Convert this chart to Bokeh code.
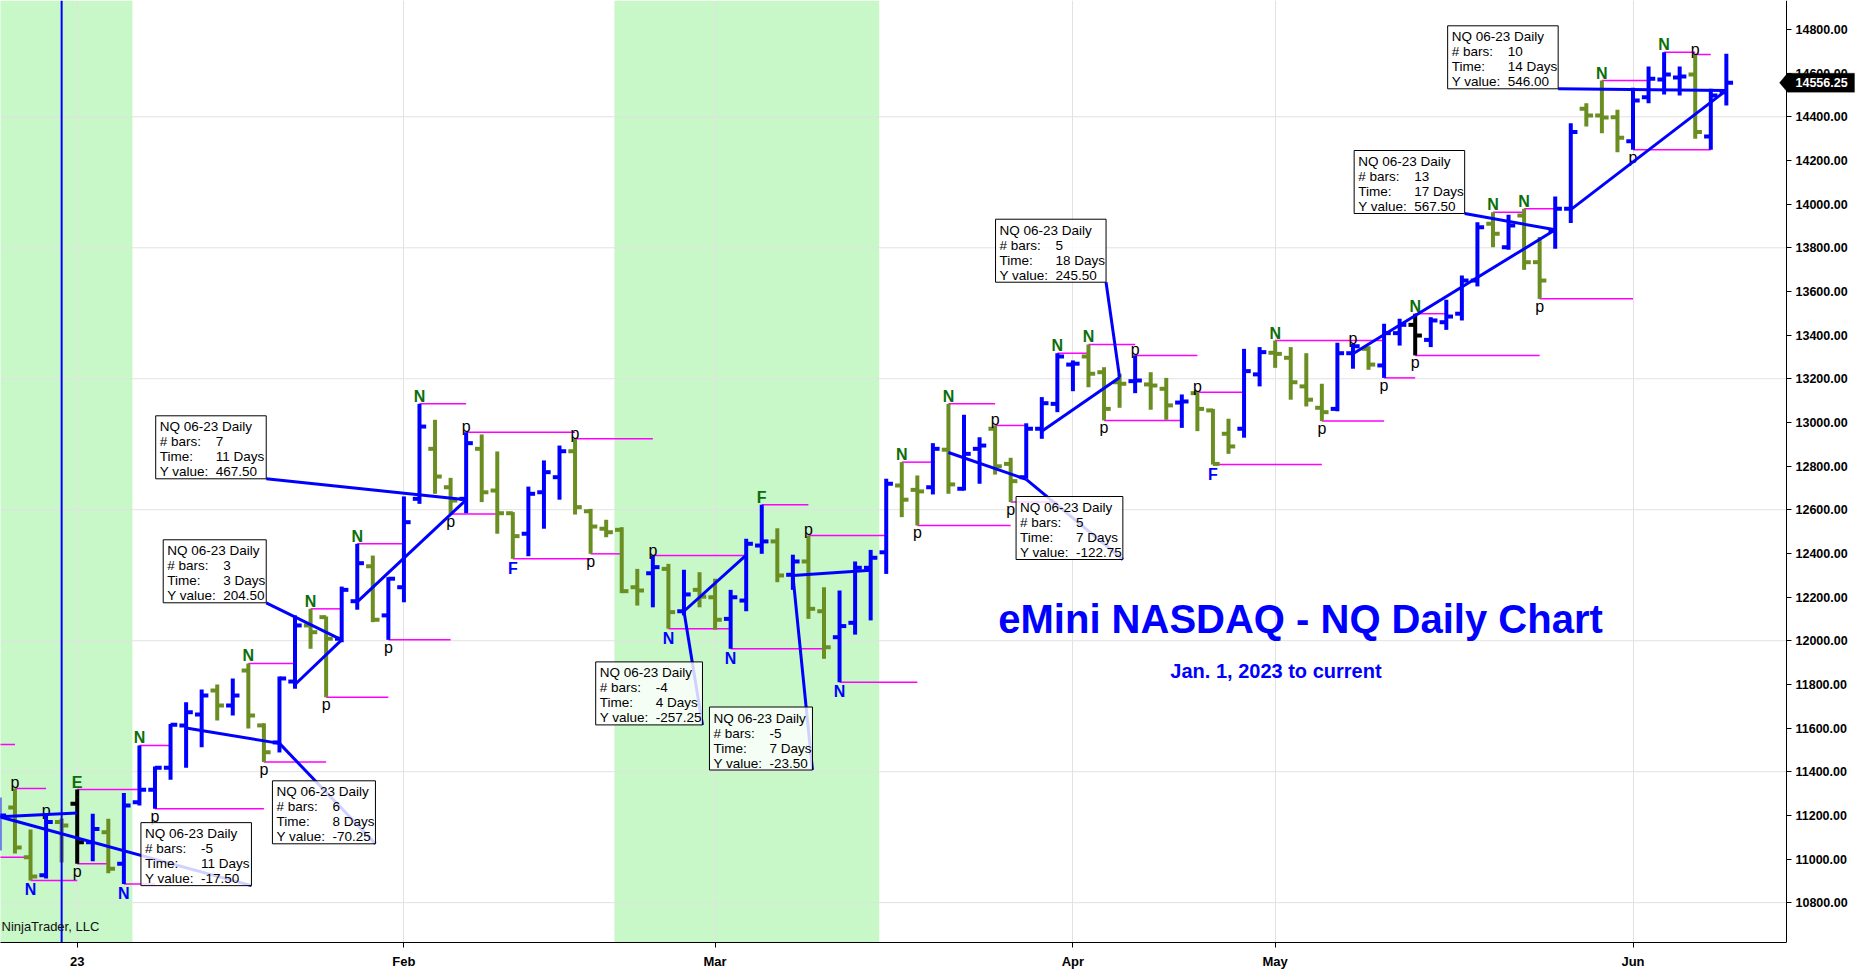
import numpy as np
from bokeh.plotting import figure
from bokeh.models import (FixedTicker, NumeralTickFormatter, BoxAnnotation, Span,
                          Label, PolyAnnotation)
from bokeh.core.properties import value
from bokeh.embed import file_html
from bokeh.resources import INLINE

# ---------------- data ----------------
opens = [11085, 11236, 11008, 10925, 11169, 11253, 11077, 11123, 10978, 11260,
         11317, 11418, 11612, 11662, 11772, 11703, 11864, 11612, 11534, 11813,
         12070, 12108, 12009, 12181, 12341, 12116, 12245, 12650, 12879, 12703,
         12650, 12879, 12688, 12584, 12490, 12680, 12749, 12868, 12593, 12513,
         12508, 12245, 12309, 12329, 12135, 12233, 12199, 12100, 12184, 12436,
         12455, 12302, 12363, 12135, 12016, 12082, 12334, 12405, 12711, 12691,
         12703, 12875, 12696, 12879, 12971, 12810, 12749, 12971, 13085, 13265,
         13302, 13230, 13184, 13189, 13174, 13154, 13091, 13134, 13055, 12948,
         12971, 13220, 13319, 13296, 13165, 13067, 13062, 13317, 13337, 13261,
         13409, 13447, 13378, 13459, 13498, 13650, 13910, 13803, 13948, 13734,
         13879, 13979, 14437, 14406, 14398, 14288, 14490, 14571, 14580, 14594,
         14310, 14513]
highs = [11282, 11323, 11135, 11199, 11185, 11318, 11207, 11184, 11302, 11520,
         11424, 11619, 11718, 11776, 11799, 11827, 11896, 11622, 11836, 12116,
         12146, 12111, 12248, 12444, 12390, 12291, 12661, 13085, 13012, 12746,
         12955, 12945, 12867, 12589, 12706, 12826, 12894, 12925, 12604, 12554,
         12520, 12329, 12390, 12352, 12325, 12314, 12284, 12233, 12467, 12623,
         12515, 12394, 12482, 12245, 12230, 12363, 12416, 12742, 12818, 12757,
         12905, 13085, 13035, 12932, 12986, 12838, 12996, 13116, 13317, 13284,
         13357, 13253, 13223, 13307, 13230, 13204, 13128, 13138, 13062, 13017,
         13337, 13345, 13375, 13345, 13317, 13177, 13365, 13360, 13349, 13452,
         13475, 13498, 13482, 13562, 13673, 13917, 13963, 13951, 13979, 13849,
         14035, 14371, 14462, 14566, 14432, 14533, 14630, 14696, 14630, 14685,
         14528, 14689]
lows = [11039, 11025, 10902, 10911, 10984, 10978, 10990, 10935, 10886, 11245,
        11230, 11363, 11418, 11512, 11634, 11657, 11598, 11444, 11488, 11780,
        11963, 11741, 11993, 12142, 12085, 12004, 12176, 12627, 12673, 12581,
        12584, 12635, 12490, 12375, 12387, 12513, 12646, 12578, 12398, 12474,
        12218, 12161, 12153, 12055, 12116, 12153, 12050, 11963, 12135, 12398,
        12268, 12233, 12100, 11917, 11810, 12028, 12093, 12306, 12566, 12528,
        12670, 12673, 12688, 12719, 12761, 12635, 12742, 12925, 13047, 13143,
        13161, 13009, 13067, 13134, 13058, 13012, 12975, 12960, 12807, 12856,
        12930, 13165, 13250, 13104, 13073, 13006, 13051, 13246, 13241, 13204,
        13352, 13307, 13345, 13424, 13467, 13623, 13803, 13791, 13699, 13566,
        13795, 13913, 14356, 14325, 14238, 14249, 14462, 14502, 14498, 14299,
        14249, 14452]
closes = [11199, 11053, 10920, 11169, 11154, 11077, 11138, 10955, 11245, 11317,
          11418, 11615, 11672, 11749, 11703, 11749, 11657, 11489, 11827, 12070,
          12039, 12009, 12233, 12355, 12096, 12284, 12543, 12981, 12752, 12642,
          12905, 12680, 12584, 12479, 12673, 12772, 12868, 12612, 12523, 12497,
          12227, 12230, 12337, 12131, 12212, 12202, 12096, 12199, 12444, 12455,
          12299, 12363, 12146, 11970, 12067, 12334, 12380, 12719, 12646, 12684,
          12879, 12716, 12856, 12894, 12799, 12731, 12971, 13088, 13302, 13269,
          13223, 13062, 13177, 13192, 13169, 13078, 13096, 13062, 12810, 12890,
          13235, 13322, 13314, 13184, 13104, 13047, 13317, 13349, 13265, 13409,
          13447, 13398, 13467, 13485, 13650, 13894, 13864, 13902, 13734, 13650,
          13979, 14330, 14406, 14397, 14304, 14475, 14574, 14594, 14585, 14330,
          14498, 14556.25]
marked_bars = [5, 91]          # bars painted black
cursor_bar = 4                 # vertical blue line

month_ticks = [5, 26, 46, 69, 82, 105]
month_labels = ["23", "Feb", "Mar", "Apr", "May", "Jun"]

shaded_from = [-1.5, 39.53]
shaded_to = [8.55, 56.55]

# swing markers
label_bar = [1, 3, 2, 5, 5, 8, 9, 10, 16, 17,
             20, 21, 23, 25, 27, 29, 30, 33, 37, 38,
             42, 43, 47, 49, 52, 54, 58, 59, 61, 64,
             65, 68, 70, 71, 73, 77, 78, 82, 85, 87,
             89, 91, 91, 96, 98, 99, 103, 105, 107, 109]
label_text = ['p', 'p', 'N', 'E', 'p', 'N', 'N', 'p', 'N', 'p',
              'N', 'p', 'N', 'p', 'N', 'p', 'p', 'F', 'p', 'p',
              'p', 'N', 'N', 'F', 'p', 'N', 'N', 'p', 'N', 'p',
              'p', 'N', 'N', 'p', 'p', 'p', 'F', 'N', 'p', 'p',
              'p', 'N', 'p', 'N', 'N', 'p', 'N', 'p', 'N', 'p']
label_side = ['H', 'H', 'L', 'H', 'L', 'L', 'H', 'L', 'H', 'L',
              'H', 'L', 'H', 'L', 'H', 'L', 'H', 'L', 'H', 'L',
              'H', 'L', 'L', 'H', 'H', 'L', 'H', 'L', 'H', 'H',
              'L', 'H', 'H', 'L', 'H', 'H', 'L', 'H', 'L', 'H',
              'L', 'H', 'L', 'H', 'H', 'L', 'H', 'L', 'H', 'H']

# horizontal swing level lines
swing_start = [-1, 1, -1, 2, 5, 5, 8, 9, 10, 17,
               16, 20, 21, 23, 25, 27, 29, 30, 33, 37,
               38, 42, 43, 47, 49, 52, 54, 58, 59, 61,
               64, 65, 68, 70, 71, 73, 77, 78, 82, 85,
               89, 91, 91, 96, 98, 99, 103, 107, 109, 105]
swing_end = [1, 3, 2, 5, 9, 7, 10, 11, 17, 21,
             19, 22, 25, 26, 29, 30, 32, 37, 38, 42,
             40, 48, 47, 53, 52, 57, 59, 60, 65, 64,
             66, 68, 70, 73, 76, 77, 80, 85, 89, 89,
             91, 93, 99, 98, 100, 105, 106, 109, 110, 110]
swing_ref = [11525, 'H', 11008, 'L', 'H', 'L', 'L', 'H', 'L', 'L',
             'H', 'H', 'L', 'H', 'L', 'H', 'L', 'H', 'L', 'H',
             'L', 'H', 'L', 'L', 'H', 'H', 'L', 'H', 'L', 'H',
             'H', 'L', 'H', 'H', 'L', 'H', 'H', 'L', 'H', 'L',
             'L', 'H', 'L', 'H', 'H', 'L', 'H', 'H', 'H', 'L']

# ruler drawings
ruler_start_bar = [5, 12, 19, 23, 48, 56, 61, 67, 87, 101]
ruler_start_val = [11211, 11600, 11799.5, 12178, 12392.25, 12322.5, 12862, 12960, 13315, 13975]
ruler_end_bar = [0, 18, 22, 30, 44, 51, 66, 72, 100, 111]
ruler_end_val = [11193.5, 11529.75, 12004, 12645.5, 12135, 12299, 12739.25, 13205.5, 13882.5, 14521]
ruler_days = ["11 Days", "8 Days", "3 Days", "11 Days", "4 Days", "7 Days",
              "7 Days", "18 Days", "17 Days", "14 Days"]
ruler_box_x = [16.2, 24.17, 17.15, 17.15, 45.19, 52.26, 72.21, 71.13, 94.18, 100.19]
ruler_box_y = [10878, 11069.6, 12173.7, 12741.7, 11614.3, 11407.7, 12372, 13642.3, 13957, 14528.3]

y_ticks = list(range(10800, 14801, 200))
y_grid = list(range(10800, 14801, 600))

title_text = "eMini NASDAQ - NQ Daily Chart"
subtitle_text = "Jan. 1, 2023 to current"

# ---------------- figure ----------------
W, H = 1856, 973
FH = 942
AXIS_PX = 1786                     # where the price axis sits
DX = 1 / 15.558                    # bars per pixel
X0 = 0.070
X1 = X0 + W * DX
XA = X0 + AXIS_PX * DX
Y1 = 14932.8
Y0 = Y1 - 4.581 * FH
DY = (Y1 - Y0) / FH
FONT = "Liberation Sans"
BLUE = "#0000FF"
OLIVE = "#6B8E23"
DKGREEN = "#0A6E0A"
MAGENTA = "#FF00FF"

p = figure(width=W, height=H, x_range=(X0, X1), y_range=(Y0, Y1),
           output_backend="svg", toolbar_location=None, y_axis_location="right",
           min_border_left=0, min_border_top=0, min_border_right=0,
           min_border_bottom=H - FH)
p.outline_line_color = None
p.background_fill_color = "white"
p.border_fill_color = "white"

yax = p.yaxis[0]
yax.ticker = FixedTicker(ticks=y_ticks)
yax.formatter = NumeralTickFormatter(format="0.00")
yax.fixed_location = XA
xax = p.xaxis[0]
xax.ticker = FixedTicker(ticks=month_ticks)
xax.major_label_overrides = {t: l for t, l in zip(month_ticks, month_labels)}
xax.bounds = (X0, XA)
for ax in (xax, yax):
    ax.major_label_text_font = FONT
    ax.major_label_text_font_style = "bold"
    ax.major_label_text_color = "black"
    ax.axis_line_color = "black"
    ax.axis_line_width = 1
    ax.major_tick_line_color = "black"
    ax.major_tick_out = 5
    ax.major_tick_in = 0
    ax.minor_tick_out = 0
    ax.minor_tick_in = 0
xax.major_label_text_font_size = "13px"
yax.major_label_text_font_size = "12.5px"
yax.major_label_standoff = 4
xax.major_label_standoff = 6

p.ygrid.visible = False
p.xgrid.ticker = FixedTicker(ticks=month_ticks)
p.xgrid.grid_line_color = "#E2E2E2"
p.xgrid.grid_line_width = 1
p.segment(x0=[X0] * len(y_grid), x1=[XA] * len(y_grid), y0=y_grid, y1=y_grid,
          line_color="#E2E2E2", line_width=1, level="underlay")

for a, b in zip(shaded_from, shaded_to):
    p.add_layout(BoxAnnotation(left=a, right=b, fill_color="#C8F7C8", fill_alpha=1.0,
                               line_color=None, level="image"))

# swing level lines
sy = [(highs[s] if r == 'H' else lows[s]) if isinstance(r, str) else r
      for s, r in zip(swing_start, swing_ref)]
p.segment(x0=swing_start, y0=sy, x1=swing_end, y1=sy, line_color=MAGENTA, line_width=1.5)

# OHLC bars
idx = np.arange(len(opens))
colors = ["black" if i in marked_bars else (BLUE if c >= o else OLIVE)
          for i, (o, c) in enumerate(zip(opens, closes))]
TK = 6.7 * DX
p.segment(x0=idx, y0=lows, x1=idx, y1=highs, line_color=colors, line_width=4)
p.segment(x0=idx - TK, y0=opens, x1=idx, y1=opens, line_color=colors, line_width=4)
p.segment(x0=idx, y0=closes, x1=idx + TK, y1=closes, line_color=colors, line_width=4)

p.add_layout(Span(location=cursor_bar, dimension="height", line_color=BLUE, line_width=2))

# swing marker labels
hx, hy, ht, hc, lx, ly, lt, lc = [], [], [], [], [], [], [], []
for b, t, s in zip(label_bar, label_text, label_side):
    if s == 'H':
        hx.append(b); hy.append(highs[b]); ht.append(t)
        hc.append("black" if t == 'p' else DKGREEN)
    else:
        lx.append(b); ly.append(lows[b]); lt.append(t)
        lc.append("black" if t == 'p' else BLUE)

def draw_labels(xs, ys, ts, cs, baseline, off_letter, off_p):
    bx = [x for x, t in zip(xs, ts) if t != 'p']
    by = [y for y, t in zip(ys, ts) if t != 'p']
    bt = [t for t in ts if t != 'p']
    bc = [c for c, t in zip(cs, ts) if t != 'p']
    p.text(x=bx, y=by, text=bt, text_color=bc, text_align="center", text_baseline=baseline,
           text_font=value(FONT), text_font_size="16px", text_font_style="bold",
           y_offset=off_letter)
    px_ = [x for x, t in zip(xs, ts) if t == 'p']
    py_ = [y for y, t in zip(ys, ts) if t == 'p']
    p.text(x=px_, y=py_, text=['p'] * len(px_), text_color="black", text_align="center",
           text_baseline=baseline, text_font=value(FONT), text_font_size="16px",
           y_offset=off_p)

draw_labels(hx, hy, ht, hc, "bottom", 1, 3)
draw_labels(lx, ly, lt, lc, "top", 1, -1)

# rulers
def text_w(s, size=13.5):
    cw = {'D': .722, 'a': .556, 'y': .5, 's': .5, ' ': .278, '-': .333, '.': .278}
    return size * sum(cw.get(ch, .556) for ch in s)

for sb, sv, eb, ev, days, bx, by in zip(ruler_start_bar, ruler_start_val, ruler_end_bar,
                                        ruler_end_val, ruler_days, ruler_box_x, ruler_box_y):
    p.line([sb, eb], [sv, ev], line_color=BLUE, line_width=3)
    p.line([eb, bx], [ev, by], line_color=BLUE, line_width=3)
    vals = [f"{eb - sb}", days, f"{ev - sv:.2f}"]
    wpx = max(60 + max(text_w(v) for v in vals) + 1, 100)
    left = bx - wpx * DX
    top = by + 63 * DY
    p.quad(left=[left], right=[bx], bottom=[by], top=[top], fill_color="white",
           fill_alpha=0.82, line_color="black", line_width=1)
    p.text(x=[left] * 4, y=[top] * 4, text=["NQ 06-23 Daily", "# bars:", "Time:", "Y value:"],
           x_offset=4, y_offset=[11, 26, 41, 56], text_baseline="alphabetic", text_align="left",
           text_font=value(FONT), text_font_size="13.5px", text_color="black")
    p.text(x=[left] * 3, y=[top] * 3, text=vals,
           x_offset=60, y_offset=[26, 41, 56], text_baseline="alphabetic", text_align="left",
           text_font=value(FONT), text_font_size="13.5px", text_color="black")

# titles
p.add_layout(Label(x=83.63, y=12101.7, text=title_text, text_align="center",
                   text_baseline="middle", text_font=FONT, text_font_size="40px",
                   text_font_style="bold", text_color=BLUE))
p.add_layout(Label(x=82.05, y=11863.5, text=subtitle_text, text_align="center",
                   text_baseline="middle", text_font=FONT, text_font_size="20px",
                   text_font_style="bold", text_color=BLUE))
p.add_layout(Label(x=X0 + 1 * DX, y=10690.8, text="NinjaTrader, LLC", text_align="left",
                   text_baseline="middle", text_font=FONT, text_font_size="13px",
                   text_color="#111111"))

# last price marker on the axis
last = closes[-1]
hh = 9.5 * DY
p.add_layout(PolyAnnotation(xs=[1779, 1787, 1854, 1854, 1787],
                            ys=[last, last + hh, last + hh, last - hh, last - hh],
                            xs_units="canvas", ys_units="data",
                            fill_color="black", fill_alpha=1.0, line_color="black"))
p.add_layout(Label(x=1795, y=last, x_units="canvas", text=f"{last:.2f}", text_align="left",
                   text_baseline="middle", text_font=FONT, text_font_size="12.5px",
                   text_font_style="bold", text_color="white"))

open("out.html", "w").write(file_html(p, INLINE))
